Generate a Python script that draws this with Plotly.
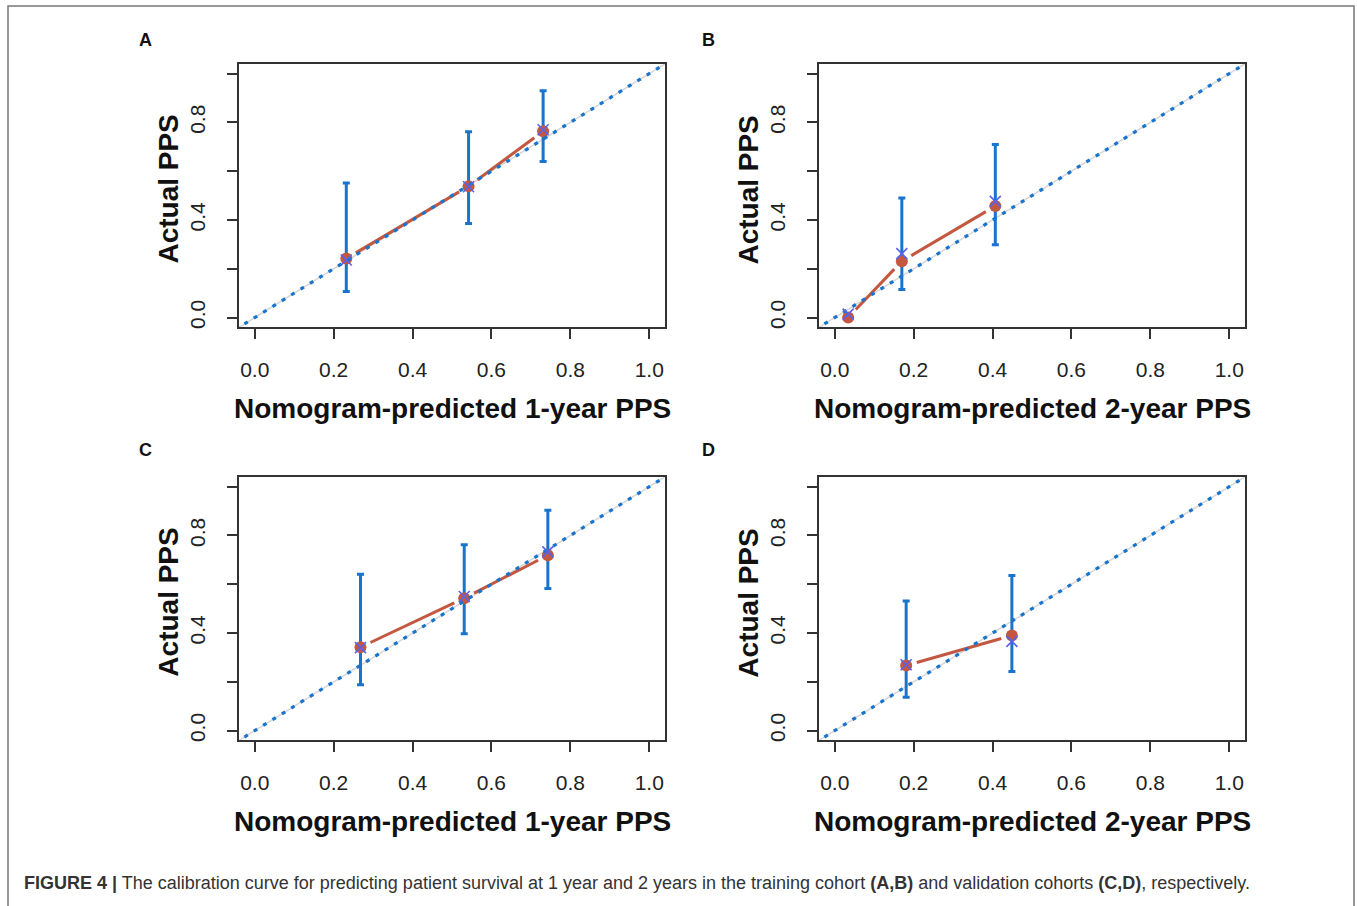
import plotly.graph_objects as go

W, H = 1357, 906

# ---------------- data ----------------
panel_letters = ["A", "B", "C", "D"]
x_titles = ["Nomogram-predicted 1-year PPS", "Nomogram-predicted 2-year PPS",
            "Nomogram-predicted 1-year PPS", "Nomogram-predicted 2-year PPS"]
y_title = "Actual PPS"

# predicted probability (x), observed (orange dots), bias-corrected (blue x), 95% CI
pred_A = [0.232, 0.542, 0.731]
obs_A = [0.242, 0.538, 0.764]
corr_A = [0.236, 0.536, 0.770]
lower_A = [0.107, 0.385, 0.640]
upper_A = [0.552, 0.762, 0.930]

pred_B = [0.034, 0.170, 0.407]
obs_B = [0.000, 0.231, 0.457]
corr_B = [0.014, 0.262, 0.476]
lower_B = [None, 0.115, 0.298]
upper_B = [None, 0.490, 0.709]

pred_C = [0.268, 0.531, 0.743]
obs_C = [0.342, 0.543, 0.719]
corr_C = [0.340, 0.550, 0.733]
lower_C = [0.188, 0.397, 0.583]
upper_C = [0.641, 0.762, 0.903]

pred_D = [0.181, 0.449]
obs_D = [0.267, 0.390]
corr_D = [0.270, 0.366]
lower_D = [0.137, 0.242]
upper_D = [0.531, 0.636]

ideal_line = [-0.05, 1.05]   # reference line y = x

x_tick_vals = [0.0, 0.2, 0.4, 0.6, 0.8, 1.0]
x_tick_text = ["0.0", "0.2", "0.4", "0.6", "0.8", "1.0"]
y_tick_vals = [0.0, 0.2, 0.4, 0.6, 0.8, 1.0]
y_tick_text = ["0.0", "", "0.4", "", "0.8", ""]

caption = ("<b>FIGURE 4 |</b> The calibration curve for predicting patient survival at 1 year and 2 years "
           "in the training cohort <b>(A,B)</b> and validation cohorts <b>(C,D)</b>, respectively.")

panels = [
    (pred_A, obs_A, corr_A, lower_A, upper_A),
    (pred_B, obs_B, corr_B, lower_B, upper_B),
    (pred_C, obs_C, corr_C, lower_C, upper_C),
    (pred_D, obs_D, corr_D, lower_D, upper_D),
]

# ---------------- layout geometry (pixels) ----------------
boxes = [(239, 64, 665, 328), (819, 64, 1245, 328),
         (239, 478, 665, 742), (819, 478, 1245, 742)]
letter_pos = [(145, 40), (708, 40), (145, 451), (708, 451)]
AX_RANGE = [-0.04, 1.04]

BLUE = "#1874CD"
ORANGE = "#C4573F"
XBLUE = "#5563EE"
AXC = "#333333"
TICKFONT = dict(family="Liberation Sans Narrow, Arial Narrow, sans-serif", size=21, color="#222222")
TITLEFONT = dict(family="Liberation Sans, Arial, sans-serif", size=28, color="#111111")


def px_x(v):
    return v / W


def px_y(v):
    return 1 - v / H


fig = go.Figure()
layout = dict(width=W, height=H, margin=dict(l=0, r=0, t=0, b=0),
              paper_bgcolor="white", plot_bgcolor="white", showlegend=False)
annotations = []
shapes = []

for i, (pred, obs, corr, lo, up) in enumerate(panels):
    k = "" if i == 0 else str(i + 1)
    xa, ya = "x" + k, "y" + k
    x0, y0, x1, y1 = boxes[i]
    sx = (x1 - x0) / (AX_RANGE[1] - AX_RANGE[0])
    sy = (y1 - y0) / (AX_RANGE[1] - AX_RANGE[0])

    layout["xaxis" + k] = dict(
        domain=[px_x(x0), px_x(x1)], range=AX_RANGE, anchor=ya,
        showgrid=False, zeroline=False, showline=True, mirror=True,
        linecolor=AXC, linewidth=1.5, ticks="outside", ticklen=10, tickwidth=1.5,
        tickcolor=AXC, tickvals=x_tick_vals, ticktext=x_tick_text,
        tickfont=TICKFONT, ticklabelstandoff=13)
    layout["yaxis" + k] = dict(
        domain=[px_y(y1), px_y(y0)], range=AX_RANGE, anchor=xa,
        showgrid=False, zeroline=False, showline=True, mirror=True,
        linecolor=AXC, linewidth=1.5, ticks="outside", ticklen=10, tickwidth=1.5,
        tickcolor=AXC, tickvals=y_tick_vals, ticktext=y_tick_text,
        tickfont=TICKFONT, tickangle=-90, ticklabelstandoff=14)

    # ideal line: light grey solid + blue dotted
    fig.add_trace(go.Scatter(x=ideal_line, y=ideal_line, mode="lines", xaxis=xa, yaxis=ya,
                             line=dict(color="#d6d6d6", width=1.5), hoverinfo="skip"))

    # orange calibration line with gaps around points (type = "b")
    gap = 11.0
    lx, ly = [], []
    for j in range(len(pred) - 1):
        dxp = (pred[j + 1] - pred[j]) * sx
        dyp = (obs[j + 1] - obs[j]) * sy
        L = (dxp ** 2 + dyp ** 2) ** 0.5
        f = gap / L
        lx += [pred[j] + f * (pred[j + 1] - pred[j]), pred[j + 1] - f * (pred[j + 1] - pred[j]), None]
        ly += [obs[j] + f * (obs[j + 1] - obs[j]), obs[j + 1] - f * (obs[j + 1] - obs[j]), None]
    fig.add_trace(go.Scatter(x=lx, y=ly, mode="lines", xaxis=xa, yaxis=ya,
                             line=dict(color=ORANGE, width=3), hoverinfo="skip"))

    # error bars
    err_up = [None if u is None else u - o for u, o in zip(up, obs)]
    err_dn = [None if l is None else o - l for l, o in zip(lo, obs)]
    fig.add_trace(go.Scatter(x=pred, y=obs, mode="markers", xaxis=xa, yaxis=ya,
                             marker=dict(size=1, color="rgba(0,0,0,0)"),
                             error_y=dict(type="data", symmetric=False, array=err_up,
                                          arrayminus=err_dn, color=BLUE, thickness=3, width=3.5),
                             hoverinfo="skip"))

    # orange dots
    fig.add_trace(go.Scatter(x=pred, y=obs, mode="markers", xaxis=xa, yaxis=ya,
                             marker=dict(size=12, color=ORANGE), hoverinfo="skip"))

    # blue dotted ideal line on top
    fig.add_trace(go.Scatter(x=ideal_line, y=ideal_line, mode="lines", xaxis=xa, yaxis=ya,
                             line=dict(color=BLUE, width=3.2, dash="4px,7px"), hoverinfo="skip"))

    # bias-corrected x marks
    fig.add_trace(go.Scatter(x=pred, y=corr, mode="markers", xaxis=xa, yaxis=ya,
                             marker=dict(symbol="x-thin", size=11, line=dict(color=XBLUE, width=1.6)),
                             hoverinfo="skip"))

    # axis titles
    annotations.append(dict(text="<b>" + x_titles[i] + "</b>", xref="paper", yref="paper",
                            x=px_x((x0 + x1) / 2), y=px_y(y1 + 81), xanchor="center", yanchor="middle",
                            showarrow=False, font=TITLEFONT))
    annotations.append(dict(text="<b>" + y_title + "</b>", xref="paper", yref="paper",
                            x=px_x(x0 - 70), y=px_y((y0 + y1) / 2 - 6), xanchor="center",
                            yanchor="middle", textangle=-90, showarrow=False, font=TITLEFONT))
    lxp, lyp = letter_pos[i]
    annotations.append(dict(text="<b>" + panel_letters[i] + "</b>", xref="paper", yref="paper",
                            x=px_x(lxp), y=px_y(lyp), xanchor="center", yanchor="middle",
                            showarrow=False,
                            font=dict(family="Liberation Sans, Arial, sans-serif", size=18, color="#111")))

annotations.append(dict(text=caption, xref="paper", yref="paper", x=px_x(22), y=px_y(885),
                        xanchor="left", yanchor="middle", showarrow=False,
                        font=dict(family="Liberation Sans Narrow, Arial Narrow, sans-serif",
                                  size=18, color="#333333")))

shapes.append(dict(type="rect", xref="paper", yref="paper", x0=px_x(8), x1=px_x(1354),
                   y0=px_y(912), y1=px_y(6), line=dict(color="#777777", width=1.5),
                   fillcolor="rgba(0,0,0,0)", layer="below"))

layout["annotations"] = annotations
layout["shapes"] = shapes
fig.update_layout(**layout)

fig.write_html("out.html", config={"displayModeBar": False},
               post_script="document.body.style.margin='0px';document.body.style.overflow='hidden';")
